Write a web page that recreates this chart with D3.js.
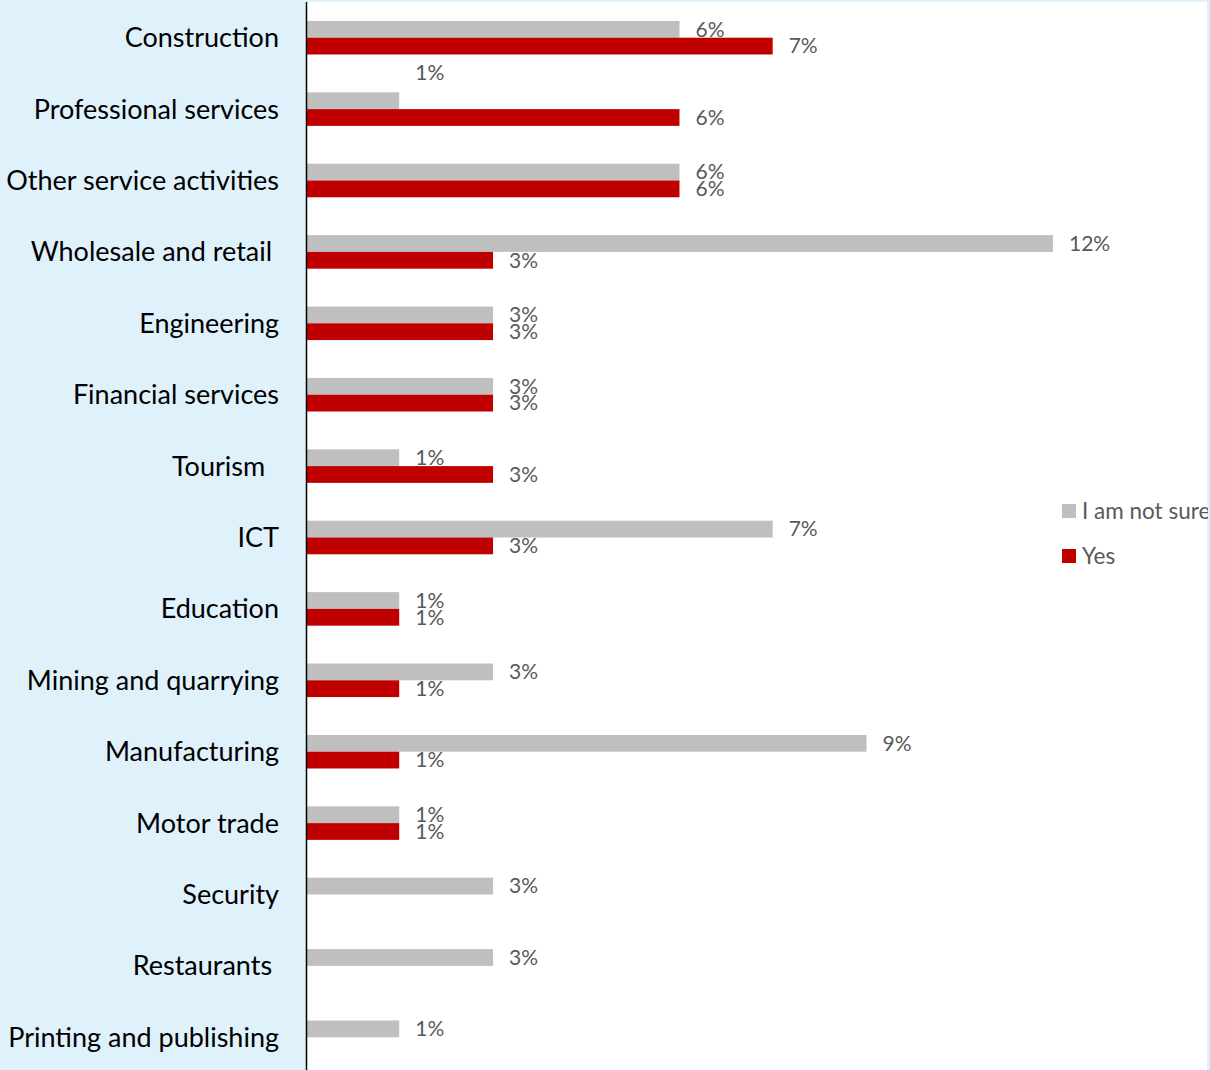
<!DOCTYPE html>
<html>
<head>
<meta charset="utf-8">
<script src="https://cdn.jsdelivr.net/npm/d3@7"></script>
<style>
  html, body { margin: 0; padding: 0; background: #dff1fa; }
  svg { display: block; }
  text { font-family: Lato, "Open Sans", sans-serif; }
</style>
</head>
<body>
<svg id="chart" width="1210" height="1070"></svg>
<script>
// Data
const categories = [
  "Construction", "Professional services", "Other service activities",
  "Wholesale and retail ", "Engineering", "Financial services", "Tourism  ",
  "ICT", "Education", "Mining and quarrying", "Manufacturing", "Motor trade",
  "Security", "Restaurants ", "Printing and publishing"
];
const seriesNames = ["I am not sure", "Yes"];
const notSure = [5.97, 1.49, 5.97, 11.94, 2.99, 2.99, 1.49, 7.46, 1.49, 2.99, 8.96, 1.49, 2.99, 2.99, 1.49];
const yes     = [7.46, 5.97, 5.97, 2.99, 2.99, 2.99, 2.99, 2.99, 1.49, 1.49, 1.49, 1.49, null, null, null];
const colors = ["#bfbfbf", "#c00000"];

const svg = d3.select("#chart");
const W = 1210, H = 1070;
const plotLeft = 306, plotRight = 1207, plotTop = 2, plotBottom = 1073;

// plot area background
svg.append("rect").attr("x", plotLeft).attr("y", plotTop)
  .attr("width", plotRight - plotLeft).attr("height", plotBottom - plotTop)
  .attr("fill", "#ffffff");

const x = d3.scaleLinear().domain([0, 14]).range([plotLeft, plotLeft + 14 * 62.56]);
const y0 = d3.scaleBand().domain(categories).range([plotTop, plotBottom]).paddingInner(0.53).paddingOuter(0.265);
const y1 = d3.scaleBand().domain(seriesNames).range([0, y0.bandwidth()]);

const rows = categories.map((c, i) => ({ cat: c, vals: [notSure[i], yes[i]] }));

const g = svg.append("g");
rows.forEach((r, i) => {
  r.vals.forEach((v, s) => {
    if (v == null) return;
    const yy = y0(r.cat) + y1(seriesNames[s]);
    g.append("rect")
      .attr("x", x(0)).attr("y", yy)
      .attr("width", x(v) - x(0)).attr("height", y1.bandwidth())
      .attr("fill", colors[s]);
    // Excel placed the "Professional services / not sure" label above its bar
    const dy = (i === 1 && s === 0) ? -28 : 0;
    g.append("text")
      .attr("x", x(v) + 16)
      .attr("y", yy + y1.bandwidth() / 2 + dy)
      .attr("dy", "0.35em")
      .attr("font-size", 21)
      .attr("fill", "#595959")
      .text(Math.round(v) + "%");
  });
});

// category labels
svg.append("g").selectAll("text").data(categories).join("text")
  .attr("x", 279)
  .attr("y", d => y0(d) + y0.bandwidth() / 2)
  .attr("dy", "0.35em")
  .attr("text-anchor", "end")
  .attr("font-size", 27)
  .attr("fill", "#000")
  .style("white-space", "pre")
  .text(d => d);

// axis line
svg.append("line").attr("x1", plotLeft + 0.5).attr("x2", plotLeft + 0.5)
  .attr("y1", plotTop).attr("y2", H).attr("stroke", "#000").attr("stroke-width", 1.5);

// legend
const legend = svg.append("g");
seriesNames.forEach((n, i) => {
  const ly = 511 + i * 45;
  legend.append("rect").attr("x", 1062).attr("y", ly - 7).attr("width", 14).attr("height", 14).attr("fill", colors[i]);
  legend.append("text").attr("x", 1082).attr("y", ly).attr("dy", "0.35em")
    .attr("font-size", 22.5).attr("fill", "#595959").text(n);
});

// right border strip
svg.append("rect").attr("x", 1208).attr("y", 0).attr("width", 2).attr("height", H).attr("fill", "#dff1fa");
</script>
</body>
</html>
